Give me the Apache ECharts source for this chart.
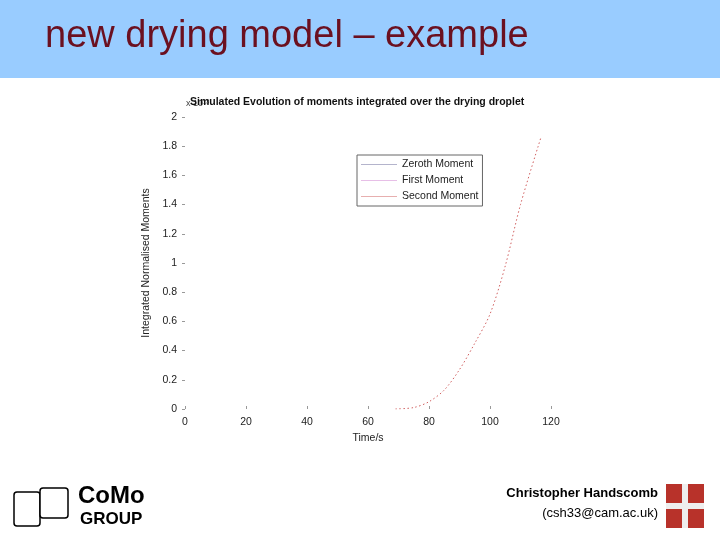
<!DOCTYPE html>
<html>
<head>
<meta charset="utf-8">
<script src="https://cdn.jsdelivr.net/npm/echarts@6/dist/echarts.min.js"></script>
<style>html,body{margin:0;padding:0;background:#fff}#chart{width:720px;height:540px}</style>
</head>
<body>
<div id="chart"></div>
<script>
// data (y in units of 10^?)
const seriesNames = ['Zeroth Moment', 'First Moment', 'Second Moment'];
const seriesColors = ['#6a6a9a', '#d080d0', '#d06060'];
const zerothMoment = [];
const firstMoment = [];
const secondMoment = [
  [69, 0.0], [75, 0.01], [80, 0.05], [85, 0.13], [90, 0.27], [95, 0.45],
  [100, 0.65], [105, 0.98], [110, 1.4], [116.7, 1.86]
];
const xTicks = ['0', '20', '40', '60', '80', '100', '120'];

const chart = echarts.init(document.getElementById('chart'));

const option = {
  animation: false,
  textStyle: { fontFamily: 'Liberation Sans, Arial, sans-serif' },
  graphic: [
    { type: 'rect', shape: { x: 0, y: 0, width: 720, height: 78 }, style: { fill: '#99ccff' }, z: -10 },
    { type: 'text', left: 45, top: 18, style: { text: 'new drying model \u2013 example', fill: '#6b1020', font: '38px Liberation Sans, Arial' } },
    { type: 'text', left: 186, top: 99, style: { text: 'x 10\u00b9\u00b3', fill: '#444', font: '9px Liberation Sans, Arial' } },
    { type: 'text', left: 190, top: 97, style: { text: 'Simulated Evolution of moments integrated over the drying droplet', fill: '#111', font: 'bold 10.5px Liberation Sans, Arial' } },
    { type: 'text', left: 78, top: 484, style: { text: 'CoMo', fill: '#000', font: 'bold 24px Liberation Sans, Arial' } },
    { type: 'text', left: 80, top: 511, style: { text: 'GROUP', fill: '#000', font: 'bold 17px Liberation Sans, Arial' } },
    { type: 'rect', shape: { x: 14, y: 492, width: 26, height: 34, r: 3 }, style: { fill: '#fff', stroke: '#000', lineWidth: 1.5 } },
    { type: 'rect', shape: { x: 40, y: 488, width: 28, height: 30, r: 3 }, style: { fill: '#fff', stroke: '#000', lineWidth: 1.5 } },
    { type: 'text', right: 62, top: 487, style: { text: 'Christopher Handscomb', fill: '#000', font: 'bold 13px Liberation Sans, Arial', align: 'right' } },
    { type: 'text', right: 62, top: 507, style: { text: '(csh33@cam.ac.uk)', fill: '#000', font: '13px Liberation Sans, Arial', align: 'right' } },
    { type: 'rect', shape: { x: 666, y: 484, width: 38, height: 44 }, style: { fill: '#b8322a' } },
    { type: 'rect', shape: { x: 682, y: 484, width: 6, height: 44 }, style: { fill: '#eee' } },
    { type: 'rect', shape: { x: 666, y: 503, width: 38, height: 6 }, style: { fill: '#eee' } }
  ],
  legend: {
    data: seriesNames.map(n => ({ name: n, icon: 'path://M0,0H60V1H0Z' })),
    orient: 'vertical',
    left: 357, top: 155,
    itemWidth: 36, itemHeight: 2, itemGap: 5,
    padding: [4, 4, 4, 4],
    borderColor: '#666', borderWidth: 1, backgroundColor: '#fff',
    textStyle: { fontSize: 10.5, color: '#222' }
  },
  grid: { left: 185, right: 169, top: 117, bottom: 131 },
  xAxis: {
    type: 'value', min: 0, max: 120, interval: 20,
    name: 'Time/s', nameLocation: 'middle', nameGap: 19,
    nameTextStyle: { fontSize: 10.5, color: '#222' },
    axisLine: { show: false },
    axisTick: { show: true, inside: true, length: 3, lineStyle: { color: '#999' } },
    axisLabel: { fontSize: 10.5, color: '#222', formatter: v => xTicks[v / 20] },
    splitLine: { show: false }
  },
  yAxis: {
    type: 'value', min: 0, max: 2, interval: 0.2,
    name: 'Integrated Normalised Moments', nameLocation: 'middle', nameGap: 30,
    nameTextStyle: { fontSize: 10.5, color: '#222' },
    axisLine: { show: false },
    axisTick: { show: true, length: 3, lineStyle: { color: '#999' } },
    axisLabel: { fontSize: 10.5, color: '#222', margin: 8, formatter: v => String(Math.round(v * 10) / 10) },
    splitLine: { show: false }
  },
  series: [zerothMoment, firstMoment, secondMoment].map((d, i) => ({
    name: seriesNames[i], type: 'line', data: d, showSymbol: false, smooth: 0.3,
    color: seriesColors[i],
    lineStyle: { width: 1, color: seriesColors[i], type: i === 2 ? [1.5, 2.5] : 'solid' }
  }))
};

chart.setOption(option);
</script>
</body>
</html>
